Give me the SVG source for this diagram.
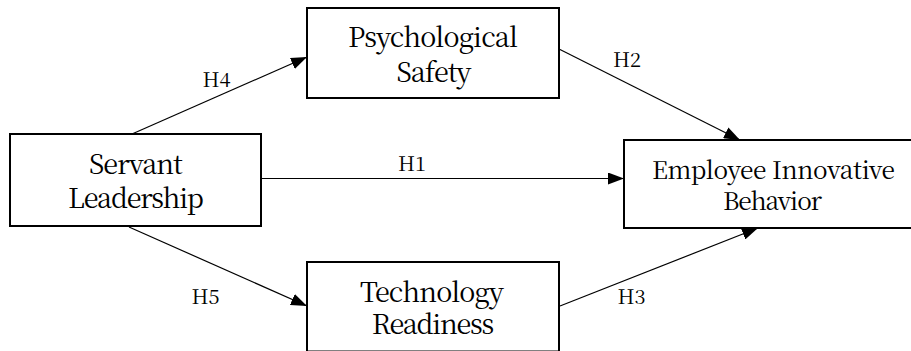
<svg xmlns="http://www.w3.org/2000/svg" width="911" height="351" viewBox="0 0 911 351">
<style>
.box{fill:#fff;stroke:#000;stroke-width:2}
.c{stroke:#000;stroke-width:1.2;fill:none;marker-end:url(#arr)}
</style>
<defs>
<marker id="arr" markerUnits="userSpaceOnUse" markerWidth="16" markerHeight="12" refX="16" refY="6" orient="auto">
<path d="M0,0 L16,6 L0,12 z" fill="#000"/>
</marker>
</defs>
<rect width="911" height="351" fill="#fff"/>
<g id="connectors">
<line class="c" x1="132" y1="134" x2="307" y2="57"/>
<line class="c" x1="559" y1="49" x2="740" y2="140"/>
<line class="c" x1="261" y1="178.5" x2="624" y2="178.5"/>
<line class="c" x1="129" y1="227" x2="307" y2="306"/>
<line class="c" x1="560" y1="306" x2="758" y2="228"/>
<g font-family="Noto Serif CJK SC, Liberation Serif, serif" font-size="20" fill="#000">
<text x="202.5" y="86.5">H4</text>
<text x="613" y="67">H2</text>
<text x="398" y="170.5">H1</text>
<text x="191.5" y="304">H5</text>
<text x="617.5" y="304">H3</text>
</g>
</g>
<g id="psychological-safety" font-family="Noto Serif CJK SC, Liberation Serif, serif" font-size="27" text-anchor="middle" fill="#000">
<rect class="box" x="307" y="8" width="252" height="90"/>
<text x="433" y="46.5" textLength="170" lengthAdjust="spacing">Psychological</text>
<text x="434" y="81.5" textLength="75" lengthAdjust="spacing">Safety</text>
</g>
<g id="servant-leadership" font-family="Noto Serif CJK SC, Liberation Serif, serif" font-size="27" text-anchor="middle" fill="#000">
<rect class="box" x="10" y="134" width="251" height="92"/>
<text x="136" y="174" textLength="94" lengthAdjust="spacing">Servant</text>
<text x="136" y="208" textLength="136" lengthAdjust="spacing">Leadership</text>
</g>
<g id="employee-innovative-behavior" font-family="Noto Serif CJK SC, Liberation Serif, serif" font-size="24.5" text-anchor="middle" fill="#000">
<rect class="box" x="624" y="140" width="298" height="88"/>
<text x="773.5" y="179" textLength="243" lengthAdjust="spacing">Employee Innovative</text>
<text x="772.5" y="210" textLength="99" lengthAdjust="spacing">Behavior</text>
</g>
<g id="technology-readiness" font-family="Noto Serif CJK SC, Liberation Serif, serif" font-size="27" text-anchor="middle" fill="#000">
<rect class="box" x="307" y="262" width="252" height="89.5"/>
<text x="432" y="301.5" textLength="144" lengthAdjust="spacing">Technology</text>
<text x="433" y="334" textLength="122.6" lengthAdjust="spacing">Readiness</text>
</g>
</svg>
